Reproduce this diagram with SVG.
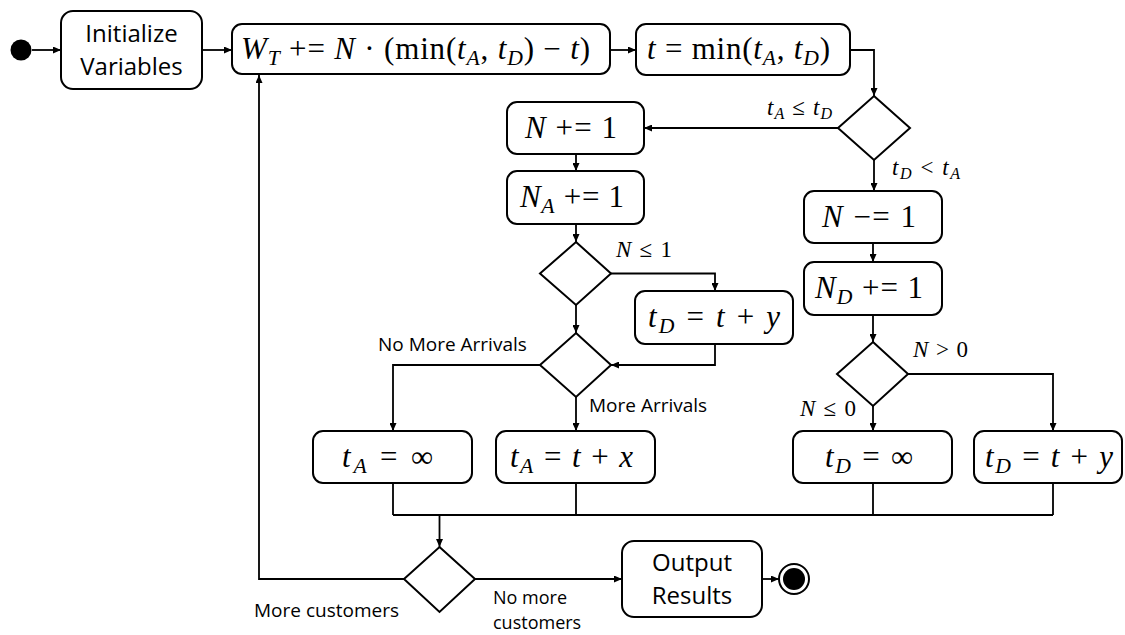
<svg xmlns="http://www.w3.org/2000/svg" width="1125" height="635" viewBox="0 0 1125 635">
<style>
.box{fill:#fff;stroke:#000;stroke-width:2}
.dia{fill:#fff;stroke:#000;stroke-width:2}
.c{fill:none;stroke:#000;stroke-width:1.8}
.a{marker-end:url(#ah)}
.m{font-family:"Liberation Serif","DejaVu Serif",serif;font-size:31px;text-anchor:middle;fill:#000}
.ml{font-family:"Liberation Serif","DejaVu Serif",serif;font-size:23px;fill:#000}
.i{font-style:italic}
.s{font-style:italic;font-size:70%}
.t{font-family:"Open Sans","Noto Sans",sans-serif;font-size:24px;text-anchor:middle;fill:#000}
.l{font-family:"Open Sans","Noto Sans",sans-serif;font-size:19px;fill:#000}
.l2{font-family:"Open Sans","Noto Sans",sans-serif;font-size:18px;fill:#000}
</style>
<defs>
<marker id="ah" markerUnits="userSpaceOnUse" markerWidth="8" markerHeight="7" refX="8" refY="3.5" orient="auto">
<path d="M0,0 L8,3.5 L0,7 z" fill="#000"/>
</marker>
</defs>

<g id="connectors">
<path class="c a" d="M32,50 H61"/>
<path class="c a" d="M202,50 H232"/>
<path class="c a" d="M610,50 H636"/>
<path class="c a" d="M850,50 H874 V96"/>
<path class="c a" d="M838,128 H644"/>
<path class="c a" d="M874,160 V191"/>
<path class="c a" d="M576,154 V171"/>
<path class="c a" d="M576,224 V242"/>
<path class="c a" d="M611,273.5 H715 V291"/>
<path class="c a" d="M576,305 V333"/>
<path class="c a" d="M715,344 V365 H611"/>
<path class="c a" d="M540,365 H393 V431"/>
<path class="c a" d="M576,397 V431"/>
<path class="c a" d="M873,243 V262"/>
<path class="c a" d="M873,315 V342"/>
<path class="c a" d="M873,406 V431"/>
<path class="c a" d="M908,374 H1053 V431"/>
<path class="c" d="M393,483 V515 M576,483 V515 M873,483 V515 M1053,483 V515 M393,515 H1053"/>
<path class="c a" d="M439.5,515 V547"/>
<path class="c a" d="M404,579 H259 V75"/>
<path class="c a" d="M475,579 H622"/>
<path class="c a" d="M762,579 H779"/>
</g>

<g id="start"><circle cx="21" cy="50" r="10.5" fill="#000"/></g>

<g id="init">
<rect class="box" x="61" y="11" width="141" height="78" rx="12"/>
<text class="t" x="131.5" y="42">Initialize</text>
<text class="t" x="131.5" y="75">Variables</text>
</g>

<g id="wt">
<rect class="box" x="232" y="24" width="378" height="50" rx="10"/>
<text class="m" x="415.5" y="59" textLength="349" lengthAdjust="spacing"><tspan class="i">W</tspan><tspan class="s" dy="6">T</tspan><tspan dy="-6"> += </tspan><tspan class="i">N</tspan><tspan> · (min(</tspan><tspan class="i">t</tspan><tspan class="s" dy="6">A</tspan><tspan dy="-6">, </tspan><tspan class="i">t</tspan><tspan class="s" dy="6">D</tspan><tspan dy="-6">) − </tspan><tspan class="i">t</tspan><tspan>)</tspan></text>
</g>

<g id="tmin">
<rect class="box" x="636" y="24" width="214" height="51" rx="10"/>
<text class="m" x="738.5" y="59" textLength="183" lengthAdjust="spacing"><tspan class="i">t</tspan><tspan> = min(</tspan><tspan class="i">t</tspan><tspan class="s" dy="6">A</tspan><tspan dy="-6">, </tspan><tspan class="i">t</tspan><tspan class="s" dy="6">D</tspan><tspan dy="-6">)</tspan></text>
</g>

<g id="d1"><polygon class="dia" points="874,96 910,128 874,160 838,128"/></g>

<g id="ninc">
<rect class="box" x="507" y="102" width="137" height="52" rx="10"/>
<text class="m" x="571" y="138" textLength="92" lengthAdjust="spacing"><tspan class="i">N</tspan><tspan> += 1</tspan></text>
</g>

<g id="nainc">
<rect class="box" x="507" y="171" width="137" height="53" rx="10"/>
<text class="m" x="572" y="207" textLength="104" lengthAdjust="spacing"><tspan class="i">N</tspan><tspan class="s" dy="6">A</tspan><tspan dy="-6"> += 1</tspan></text>
</g>

<g id="ndec">
<rect class="box" x="804" y="191" width="138" height="52" rx="10"/>
<text class="m" x="869" y="227" textLength="94" lengthAdjust="spacing"><tspan class="i">N</tspan><tspan> −= 1</tspan></text>
</g>

<g id="ndinc">
<rect class="box" x="804" y="262" width="138" height="53" rx="10"/>
<text class="m" x="869" y="298" textLength="108" lengthAdjust="spacing"><tspan class="i">N</tspan><tspan class="s" dy="6">D</tspan><tspan dy="-6"> += 1</tspan></text>
</g>

<g id="d2"><polygon class="dia" points="576,242 611,273.5 576,305 540,273.5"/></g>

<g id="tdmid">
<rect class="box" x="635" y="291" width="158" height="53" rx="10"/>
<text class="m" x="714" y="327" textLength="132" lengthAdjust="spacing"><tspan class="i">t</tspan><tspan class="s" dy="6">D</tspan><tspan dy="-6"> = </tspan><tspan class="i">t</tspan><tspan> + </tspan><tspan class="i">y</tspan></text>
</g>

<g id="d3"><polygon class="dia" points="576,333 611,365 576,397 540,365"/></g>

<g id="d5"><polygon class="dia" points="873,342 908,374 873,406 837,374"/></g>

<g id="tainf">
<rect class="box" x="313" y="431" width="159" height="52" rx="10"/>
<text class="m" x="387.5" y="467" textLength="91" lengthAdjust="spacing"><tspan class="i">t</tspan><tspan class="s" dy="6">A</tspan><tspan dy="-6"> = ∞</tspan></text>
</g>

<g id="tatx">
<rect class="box" x="496" y="431" width="159" height="52" rx="10"/>
<text class="m" x="571.5" y="467" textLength="123" lengthAdjust="spacing"><tspan class="i">t</tspan><tspan class="s" dy="6">A</tspan><tspan dy="-6"> = </tspan><tspan class="i">t</tspan><tspan> + </tspan><tspan class="i">x</tspan></text>
</g>

<g id="tdinf">
<rect class="box" x="793" y="431" width="159" height="52" rx="10"/>
<text class="m" x="869" y="467" textLength="88" lengthAdjust="spacing"><tspan class="i">t</tspan><tspan class="s" dy="6">D</tspan><tspan dy="-6"> = ∞</tspan></text>
</g>

<g id="tdty">
<rect class="box" x="974" y="431" width="148" height="52" rx="10"/>
<text class="m" x="1049" y="467" textLength="128" lengthAdjust="spacing"><tspan class="i">t</tspan><tspan class="s" dy="6">D</tspan><tspan dy="-6"> = </tspan><tspan class="i">t</tspan><tspan> + </tspan><tspan class="i">y</tspan></text>
</g>

<g id="d4"><polygon class="dia" points="439.5,547 475,579 439.5,612 404,579"/></g>

<g id="output">
<rect class="box" x="622" y="541" width="140" height="76" rx="12"/>
<text class="t" x="692" y="571">Output</text>
<text class="t" x="692" y="604">Results</text>
</g>

<g id="end">
<circle cx="794" cy="579" r="15" fill="#fff" stroke="#000" stroke-width="2"/>
<circle cx="794" cy="579" r="11" fill="#000"/>
</g>

<g id="labels">
<text class="ml" x="767" y="115" textLength="65" lengthAdjust="spacing"><tspan class="i">t</tspan><tspan class="s" dy="4">A</tspan><tspan dy="-4"> ≤ </tspan><tspan class="i">t</tspan><tspan class="s" dy="4">D</tspan></text>
<text class="ml" x="892" y="175" textLength="68" lengthAdjust="spacing"><tspan class="i">t</tspan><tspan class="s" dy="4">D</tspan><tspan dy="-4"> &lt; </tspan><tspan class="i">t</tspan><tspan class="s" dy="4">A</tspan></text>
<text class="ml" x="616" y="257" textLength="56" lengthAdjust="spacing"><tspan class="i">N</tspan><tspan> ≤ 1</tspan></text>
<text class="ml" x="913" y="357" textLength="55" lengthAdjust="spacing"><tspan class="i">N</tspan><tspan> &gt; 0</tspan></text>
<text class="ml" x="800" y="416" textLength="56" lengthAdjust="spacing"><tspan class="i">N</tspan><tspan> ≤ 0</tspan></text>
<text class="l" x="378" y="351">No More Arrivals</text>
<text class="l" x="589" y="412">More Arrivals</text>
<text class="l" x="254" y="617">More customers</text>
<text class="l2" x="493" y="604">No more</text>
<text class="l2" x="493" y="629">customers</text>
</g>
</svg>
